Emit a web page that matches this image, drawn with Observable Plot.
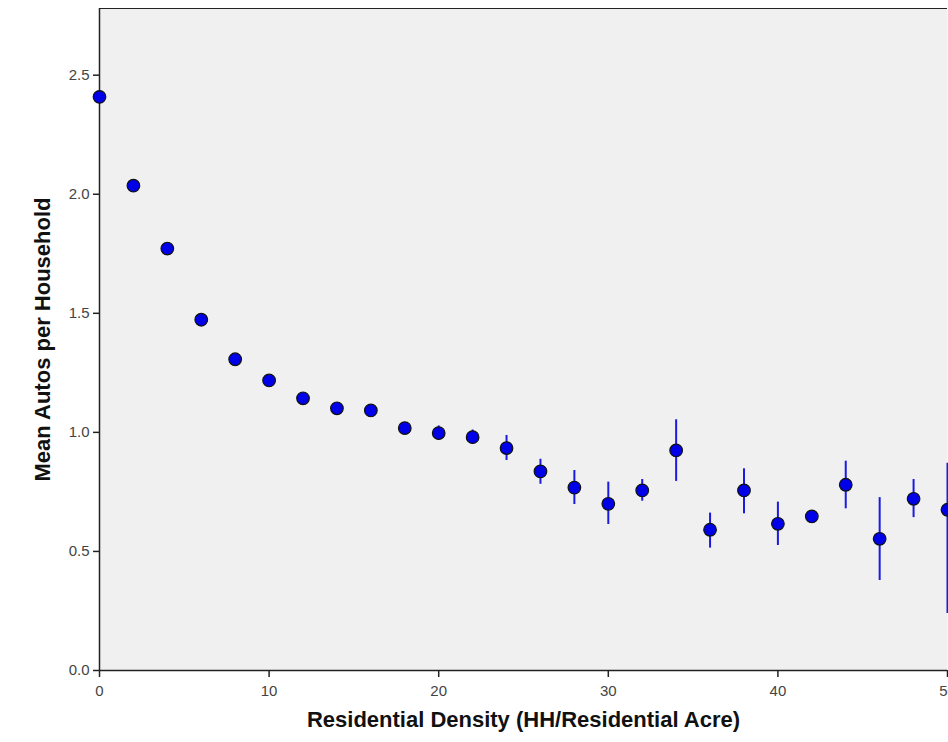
<!DOCTYPE html>
<html>
<head>
<meta charset="utf-8">
<script src="https://cdn.jsdelivr.net/npm/d3@7"></script>
<script src="https://cdn.jsdelivr.net/npm/@observablehq/plot@0.6"></script>
<style>
  html, body { margin: 0; padding: 0; background: #fff; overflow: hidden; }
  #chart { width: 948px; height: 742px; }
</style>
</head>
<body>
<div id="chart"></div>
<script>
const density = [0, 2, 4, 6, 8, 10, 12, 14, 16, 18, 20, 22, 24, 26, 28, 30, 32, 34, 36, 38, 40, 42, 44, 46, 48, 50];
const meanAutos = [2.409, 2.036, 1.772, 1.473, 1.307, 1.218, 1.143, 1.101, 1.092, 1.018, 0.997, 0.980, 0.934, 0.836, 0.768, 0.700, 0.756, 0.924, 0.591, 0.756, 0.616, 0.647, 0.780, 0.553, 0.721, 0.675];
const lowCI = [2.40, 2.03, 1.765, 1.465, 1.30, 1.21, 1.135, 1.093, 1.084, 1.005, 0.967, 0.950, 0.882, 0.782, 0.697, 0.613, 0.711, 0.794, 0.514, 0.658, 0.525, 0.619, 0.679, 0.378, 0.642, 0.239];
const highCI = [2.418, 2.044, 1.779, 1.481, 1.314, 1.226, 1.151, 1.109, 1.100, 1.031, 1.027, 1.010, 0.987, 0.887, 0.840, 0.791, 0.802, 1.053, 0.661, 0.847, 0.707, 0.672, 0.879, 0.726, 0.802, 0.870];
const yTicks = [0, 0.5, 1.0, 1.5, 2.0, 2.5];
const xTicks = [0, 10, 20, 30, 40, 50];

const data = density.map((d, i) => ({x: d, y: meanAutos[i], lo: lowCI[i], hi: highCI[i]}));
const yMax = 2.78;
const fmtY = d3.format(".1f");

const chart = Plot.plot({
  width: 948,
  height: 742,
  marginLeft: 99,
  marginRight: 1,
  marginTop: 8,
  marginBottom: 72,
  style: {fontFamily: "'Liberation Sans', Arial, sans-serif", background: "transparent", overflow: "visible"},
  x: {domain: [0, 50]},
  y: {domain: [0, yMax]},
  marks: [
    Plot.frame({fill: "#f0f0f0", stroke: null}),
    Plot.ruleY([yMax], {stroke: "#222", strokeWidth: 1.2}),
    Plot.ruleY([0], {stroke: "#222", strokeWidth: 1.5}),
    Plot.ruleX([0], {stroke: "#222", strokeWidth: 1.5}),
    Plot.axisY({ticks: yTicks, tickFormat: () => "", tickSize: 6, stroke: "#222", strokeWidth: 1.5, label: null}),
    Plot.axisX({ticks: xTicks, tickFormat: () => "", tickSize: 7, stroke: "#222", strokeWidth: 1.5, label: null}),
    Plot.text(yTicks, {x: 0, y: d => d, text: d => fmtY(d), textAnchor: "end", dx: -10, fontSize: 15, fill: "#444"}),
    Plot.text(xTicks, {x: d => d, frameAnchor: "bottom", text: d => String(d), lineAnchor: "top", dy: 15, fontSize: 15, fill: "#444"}),
    Plot.ruleX(data, {x: "x", y1: "lo", y2: "hi", stroke: "#1a1ae0", strokeWidth: 2}),
    Plot.dot(data, {x: "x", y: "y", r: 6.3, fill: "#0000e8", stroke: "#111", strokeWidth: 1.2}),
    Plot.text(["Residential Density (HH/Residential Acre)"], {frameAnchor: "bottom", dy: 56, fontSize: 22, fontWeight: "bold", fill: "#111"}),
    Plot.text(["Mean Autos per Household"], {frameAnchor: "left", dx: -57, rotate: -90, textAnchor: "middle", fontSize: 22, fontWeight: "bold", fill: "#111"})
  ]
});
document.getElementById("chart").appendChild(chart);
</script>
</body>
</html>
